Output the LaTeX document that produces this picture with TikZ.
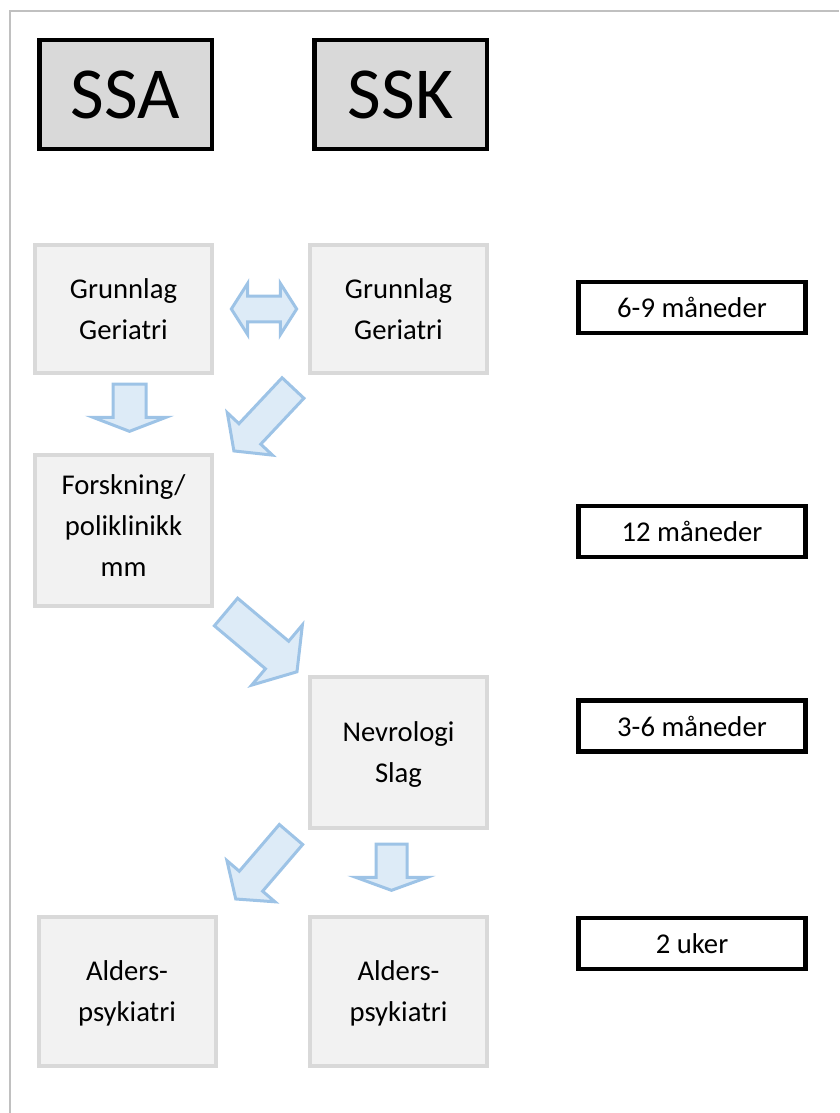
\documentclass[tikz,border=0pt]{standalone}
\usepackage{fontspec}
\setmainfont{Carlito}
\usetikzlibrary{shapes}
\usetikzlibrary{shapes.arrows}
\definecolor{headgray}{HTML}{D9D9D9}
\definecolor{boxgray}{HTML}{D9D9D9}
\definecolor{boxfill}{HTML}{F2F2F2}
\definecolor{arrowfill}{HTML}{DDEBF7}
\definecolor{arrowline}{HTML}{9DC3E6}
\definecolor{framegray}{HTML}{C0C0C0}
\tikzset{
	treenode/.style = {
		align=center,
		inner sep=0pt,
		text centered,
		font=\fontsize{21.5}{30.75}\selectfont
	},
	node_head/.style = {
		treenode,
		rectangle,
		draw=black,
		fill=headgray,
		line width=3.4pt,
		minimum width=129.4pt,
		minimum height=81.4pt,
		font=\fontsize{55}{60}\selectfont
	},
	node_gray/.style = {
		treenode,
		rectangle,
		draw=boxgray,
		fill=boxfill,
		line width=3pt,
		minimum width=132.75pt,
		minimum height=96pt,
		text depth=0pt
	},
	node_gray_high/.style = {
		node_gray,
		minimum height=113.25pt
	},
	node_time/.style = {
		treenode,
		rectangle,
		draw=black,
		fill=white,
		line width=3.4pt,
		minimum width=170.6pt,
		minimum height=38.25pt
	},
	node_arrow/.style = {
		single arrow,
		draw=arrowline,
		fill=arrowfill,
		line width=2.25pt,
		inner xsep=0pt,
		outer sep=0pt,
		single arrow head indent=0pt,
		anchor=tail
	},
}

\begin{document}
\begin{tikzpicture}[x=0.75pt, y=-0.75pt]
\useasboundingbox (0,0) rectangle (839,1113);
\draw[framegray, line width=1.1pt] (10,1113) -- (10,11) -- (839,11);

% headers
\node [node_head] (ssa) at (125.5,94.5) {SSA};
\node [node_head] (ssk) at (400.5,94.5) {SSK};

% rotations
\node [node_gray] (grunn_a) at (123.5,309) {Grunnlag\\Geriatri};
\node [node_gray] (grunn_k) at (398.5,309) {Grunnlag\\Geriatri};
\node [node_gray_high, text depth=8pt] (forsk) at (123.5,530.5) {Forskning/\\poliklinikk\\mm};
\node [node_gray_high] (nevro) at (398.5,752.5) {Nevrologi\\Slag};
\node [node_gray, minimum height=111.75pt] (alder_a) at (127,991.5) {Alders-\\psykiatri};
\node [node_gray, minimum height=111.75pt] (alder_k) at (398.5,991.5) {Alders-\\psykiatri};

% durations
\node [node_time] (t_grunn) at (692,307.5) {6-9 måneder};
\node [node_time] (t_forsk) at (692,531.5) {12 måneder};
\node [node_time] (t_nevro) at (692,726) {3-6 måneder};
\node [node_time] (t_alder) at (692,943.5) {2 uker};

% block arrows
\node [node_arrow, double arrow, anchor=center, inner ysep=8.6pt, minimum height=49pt,
	double arrow head extend=9.5pt, double arrow tip angle=115] (ar_ak) at (264,309) {};
\node [node_arrow, rotate=-90, inner ysep=11.25pt, minimum height=35.5pt,
	single arrow head extend=15pt, single arrow tip angle=138] (ar_af) at (129.5,384) {};
\node [node_arrow, rotate=226.8, inner ysep=10.1pt, minimum height=64.75pt,
	single arrow head extend=12pt, single arrow tip angle=106] (ar_kf) at (293,388) {};
\node [node_arrow, rotate=-40.1, inner ysep=12.4pt, minimum height=69.6pt,
	single arrow head extend=16pt, single arrow tip angle=113] (ar_fn) at (226,612) {};
\node [node_arrow, rotate=229.4, inner ysep=10.4pt, minimum height=63.7pt,
	single arrow head extend=12.2pt, single arrow tip angle=107] (ar_na) at (291,834.5) {};
\node [node_arrow, rotate=-90, inner ysep=10.5pt, minimum height=34.75pt,
	single arrow head extend=15pt, single arrow tip angle=140] (ar_nk) at (391.5,844) {};
\end{tikzpicture}
\end{document}
